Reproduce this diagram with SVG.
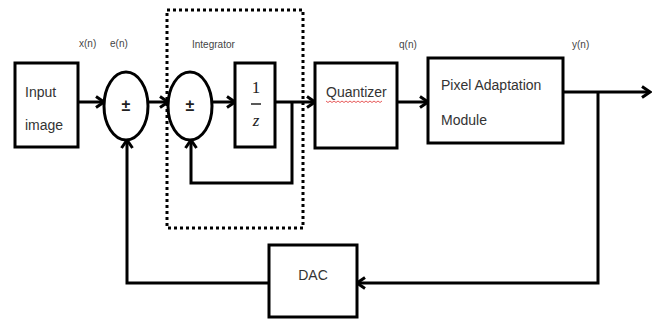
<svg xmlns="http://www.w3.org/2000/svg" width="658" height="322" viewBox="0 0 658 322">
<style>
.box{fill:#fff;stroke:#000;stroke-width:3}
.wire{fill:none;stroke:#000;stroke-width:3}
.t{font-family:"Liberation Sans",Arial,sans-serif;font-size:14px;fill:#333}
.lbl{font-family:"Liberation Sans",Arial,sans-serif;font-size:10px;fill:#444}
.pm{font-family:"Liberation Sans",Arial,sans-serif;font-size:16px;font-weight:bold;fill:#222;text-anchor:middle}
.m{font-family:"Liberation Serif","Times New Roman",serif;font-size:17px;fill:#222;text-anchor:middle}
</style>
<defs>
<marker id="ah" markerUnits="userSpaceOnUse" viewBox="0 0 12 14" markerWidth="12" markerHeight="14" refX="10" refY="7" orient="auto">
<path d="M2,1.5 L10,7 L2,12.5" fill="none" stroke="#000" stroke-width="3"/>
</marker>
</defs>
<rect width="658" height="322" fill="#fff"/>
<g id="integrator-frame">
<rect x="167" y="10" width="136" height="218" fill="none" stroke="#000" stroke-width="3" stroke-dasharray="3,3"/>
<text class="lbl" x="192" y="48">Integrator</text>
</g>
<g id="labels">
<text class="lbl" x="79" y="47">x(n)</text>
<text class="lbl" x="110" y="47">e(n)</text>
<text class="lbl" x="399" y="48">q(n)</text>
<text class="lbl" x="572" y="48">y(n)</text>
</g>
<g id="connectors">
<line class="wire" x1="78" y1="102" x2="104" y2="102" marker-end="url(#ah)"/>
<line class="wire" x1="148" y1="102" x2="168" y2="102" marker-end="url(#ah)"/>
<line class="wire" x1="212" y1="102" x2="235" y2="102" marker-end="url(#ah)"/>
<line class="wire" x1="275" y1="102" x2="315" y2="102" marker-end="url(#ah)"/>
<polyline class="wire" points="292,102 292,183 191,183 191,140" marker-end="url(#ah)"/>
<line class="wire" x1="397" y1="102" x2="428" y2="102" marker-end="url(#ah)"/>
<line class="wire" x1="563" y1="92" x2="650" y2="92" marker-end="url(#ah)"/>
<polyline class="wire" points="598,92 598,283 357,283" marker-end="url(#ah)"/>
<polyline class="wire" points="269,283 127,283 127,140" marker-end="url(#ah)"/>
</g>
<g id="input">
<rect class="box" x="15" y="63" width="63" height="84"/>
<text class="t" x="25" y="97">Input</text>
<text class="t" x="25" y="130">image</text>
</g>
<g id="sum1">
<ellipse class="box" cx="126" cy="106" rx="22" ry="34"/>
<text class="pm" x="126" y="111">±</text>
</g>
<g id="sum2">
<ellipse class="box" cx="190" cy="106" rx="22" ry="34"/>
<text class="pm" x="190" y="111">±</text>
</g>
<g id="delay">
<rect class="box" x="235" y="63" width="40" height="84"/>
<text class="m" x="256" y="93">1</text>
<line x1="251" y1="104" x2="261" y2="104" stroke="#222" stroke-width="1.5"/>
<text class="m" x="256" y="126" font-style="italic">z</text>
</g>
<g id="quantizer">
<rect class="box" x="315" y="63" width="82" height="85"/>
<text class="t" x="326" y="97">Quantizer</text>
<path d="M326,101 l2,1.5 l2,-1.5 l2,1.5 l2,-1.5 l2,1.5 l2,-1.5 l2,1.5 l2,-1.5 l2,1.5 l2,-1.5 l2,1.5 l2,-1.5 l2,1.5 l2,-1.5 l2,1.5 l2,-1.5 l2,1.5 l2,-1.5 l2,1.5 l2,-1.5 l2,1.5 l2,-1.5 l2,1.5 l2,-1.5 l2,1.5 l2,-1.5 l2,1.5 l2,-1.5" fill="none" stroke="#e03030" stroke-width="0.8"/>
</g>
<g id="pam">
<rect class="box" x="428" y="58" width="135" height="85"/>
<text class="t" x="441" y="90">Pixel Adaptation</text>
<text class="t" x="441" y="125">Module</text>
</g>
<g id="dac">
<rect class="box" x="269" y="245" width="88" height="72"/>
<text class="t" x="313" y="280" text-anchor="middle">DAC</text>
</g>
</svg>
